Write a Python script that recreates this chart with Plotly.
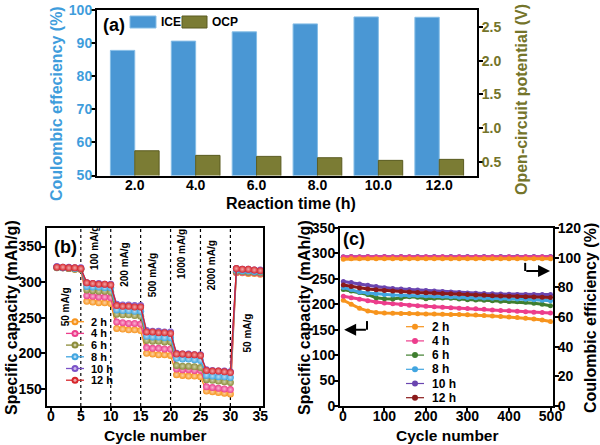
import plotly.graph_objects as go

# ---- (a) ICE / OCP vs reaction time
times = ["2.0", "4.0", "6.0", "8.0", "10.0", "12.0"]
ice = [87.8, 90.6, 93.4, 95.8, 97.9, 97.8]
ocp = [0.666, 0.598, 0.583, 0.563, 0.524, 0.539]

# ---- (b) rate capability
series = ["2 h", "4 h", "6 h", "8 h", "10 h", "12 h"]
cycles_b = list(range(1, 36))
rate_2h = [321, 320, 319, 318, 318, 273, 272, 271, 271, 270, 235, 234, 233, 233, 232,
           200, 199, 198, 198, 197, 170, 169, 168, 168, 167, 147, 146, 145, 144, 143,
           313, 313, 312, 312, 311]
rate_4h = [321, 320, 319, 319, 318, 281, 280, 279, 279, 278, 244, 243, 242, 242, 241,
           208, 207, 207, 206, 206, 178, 177, 177, 176, 176, 153, 152, 151, 150, 149,
           314, 314, 313, 313, 312]
rate_6h = [320, 320, 319, 318, 318, 289, 288, 287, 287, 286, 255, 254, 254, 253, 252,
           218, 217, 217, 216, 216, 183, 182, 182, 181, 180, 163, 162, 161, 160, 159,
           315, 315, 314, 314, 313]
rate_8h = [321, 320, 320, 319, 319, 294, 293, 293, 292, 292, 261, 260, 260, 259, 259,
           224, 223, 223, 222, 222, 193, 192, 192, 191, 190, 169, 168, 167, 167, 166,
           317, 316, 316, 315, 315]
rate_10h = [322, 321, 321, 320, 320, 299, 298, 298, 297, 297, 269, 268, 268, 267, 267,
            232, 231, 231, 230, 230, 200, 199, 199, 198, 198, 177, 176, 175, 175, 174,
            319, 318, 318, 317, 317]
rate_12h = [321, 321, 320, 320, 319, 299, 298, 297, 297, 296, 267, 266, 266, 265, 265,
            230, 230, 229, 229, 228, 199, 199, 198, 198, 197, 176, 175, 175, 174, 173,
            319, 318, 318, 317, 316]
rate_bounds = [5, 10, 15, 20, 25, 30]
rate_labels = ["50 mA/g", "100 mA/g", "200 mA/g", "500 mA/g", "1000 mA/g", "2000 mA/g", "50 mA/g"]

# ---- (c) long cycling
cycles_c = [1, 20, 40, 60, 80, 100, 120, 140, 160, 180, 200, 220, 240, 260, 280, 300,
            320, 340, 360, 380, 400, 420, 440, 460, 480, 500]
cap_2h = [208, 200, 192, 187, 184, 183, 182.5, 182, 182, 181.5, 181, 181, 180.5, 180, 180,
          179.5, 179, 178, 177, 176, 175, 174, 172.5, 171, 169, 166]
cap_4h = [216, 213, 210, 207, 204.5, 202.5, 201, 199.5, 198, 197, 196, 195, 194, 193, 192,
          191.5, 191, 190, 189, 188, 187.5, 186.5, 185.5, 184.5, 184, 183]
cap_6h = [229, 226, 223, 219, 213, 211, 210.5, 212, 215, 214, 211, 212, 212.5, 212, 210.5,
          209, 208.5, 208, 207, 206, 205.5, 205, 204, 202, 200, 197]
cap_8h = [233, 229, 224, 222, 220.5, 219, 218.5, 218, 217.5, 217.5, 217, 216.5, 216, 215, 214,
          213.5, 213, 212.5, 212, 211.5, 211, 210.5, 210, 209, 208, 207]
cap_10h = [245, 243, 240, 237.5, 235, 232.5, 231, 230, 229, 228, 227, 226, 225, 224, 223,
           222, 221.5, 221, 220.5, 220, 219.5, 219, 219, 219, 219, 219]
cap_12h = [238, 235, 232, 230, 228.5, 227, 226, 225, 224, 223, 222.5, 222, 221, 220.5, 220,
           219, 218.5, 218, 217, 216.5, 216, 215.5, 215, 214.5, 214, 213.5]
ce_2h = [99.0, 99.2, 99.3, 99.2, 99.3, 99.2, 99.3, 99.2, 99.3, 99.3, 99.2, 99.3, 99.2,
         99.3, 99.2, 99.3, 99.3, 99.2, 99.3, 99.2, 99.3, 99.2, 99.3, 99.2, 99.3, 99.2]
ce_4h = [100.5, 100.6, 100.5, 100.6, 100.5, 100.6, 100.5, 100.6, 100.6, 100.5, 100.6, 100.5, 100.6,
         100.5, 100.6, 100.5, 100.6, 100.5, 100.6, 100.5, 100.6, 100.5, 100.6, 100.5, 100.6, 100.5]
ce_6h = [100.0, 100.1, 100.0, 100.1, 100.0, 100.1, 100.0, 100.1, 100.0, 100.1, 100.0, 100.1, 100.0,
         100.1, 100.0, 100.1, 100.0, 100.1, 100.0, 100.1, 100.0, 100.1, 100.0, 100.1, 100.0, 100.1]
ce_8h = [100.2, 100.3, 100.2, 100.3, 100.2, 100.3, 100.2, 100.3, 100.2, 100.3, 100.2, 100.3, 100.2,
         100.3, 100.2, 100.3, 100.2, 100.3, 100.2, 100.3, 100.2, 100.3, 100.2, 100.3, 100.2, 100.3]
ce_10h = [100.7, 100.8, 100.7, 100.8, 100.7, 100.8, 100.7, 100.8, 100.7, 100.8, 100.7, 100.8, 100.7,
          100.8, 100.7, 100.8, 100.7, 100.8, 100.7, 100.8, 100.7, 100.8, 100.7, 100.8, 100.7, 100.8]
ce_12h = [100.1, 100.2, 100.1, 100.2, 100.1, 100.2, 100.1, 100.2, 100.1, 100.2, 100.1, 100.2, 100.1,
          100.2, 100.1, 100.2, 100.1, 100.2, 100.1, 100.2, 100.1, 100.2, 100.1, 100.2, 100.1, 100.2]

W, H = 600, 445
FONT = "Liberation Sans, Arial, sans-serif"
BLUE = "#4a97d4"
BLUE_TXT = "#3f9ddc"
OLIVE = "#7b7c34"
OLIVE_TXT = "#74742a"
colors_b = ["#f7941d", "#ec3d8c", "#8c8c3a", "#41a5e0", "#7b52c7", "#d7262b"]
light_b = ["#fcd2a3", "#f8b4d2", "#d0d0a8", "#b5dcf4", "#cbb8ec", "#f0a8aa"]
colors_c = ["#f7941d", "#ec3d8c", "#3f7e2f", "#41a5e0", "#6a45b0", "#8b1a1a"]
rates = [rate_2h, rate_4h, rate_6h, rate_8h, rate_10h, rate_12h]
caps = [cap_2h, cap_4h, cap_6h, cap_8h, cap_10h, cap_12h]
ces = [ce_2h, ce_4h, ce_6h, ce_8h, ce_10h, ce_12h]


def px(x):
    return x / W


def py(y):
    return 1 - y / H


def label(text, x, y, size, angle=0, color="black", anchor="center"):
    # text placed in page pixels
    return dict(text=text, xref="paper", yref="paper", x=px(x), y=py(y), textangle=angle,
                xanchor=anchor, yanchor="middle", showarrow=False,
                font=dict(family=FONT, size=size, color=color, weight="bold"))


fig = go.Figure()

# (a) bars
fig.add_trace(go.Bar(x=times, y=ice, name="ICE", width=0.4, offset=-0.4,
                     marker=dict(color=BLUE, line=dict(color="#86bde6", width=1)),
                     xaxis="x", yaxis="y"))
fig.add_trace(go.Bar(x=times, y=ocp, name="OCP", width=0.4, offset=0,
                     marker=dict(color=OLIVE, line=dict(color="#5a5b20", width=1)),
                     xaxis="x", yaxis="y2"))

# (b) rate lines
for name, vals, col, lt in zip(series, rates, colors_b, light_b):
    fig.add_trace(go.Scatter(x=cycles_b, y=vals, name=name, mode="lines+markers",
                             line=dict(color=col, width=1.3),
                             marker=dict(size=7, color=col, line=dict(width=0),
                                         gradient=dict(type="radial", color=lt)),
                             xaxis="x2", yaxis="y3"))

# (c) capacity + CE
for name, vals, col in zip(series, caps, colors_c):
    fig.add_trace(go.Scatter(x=cycles_c, y=vals, name=name, mode="lines+markers",
                             line=dict(color=col, width=3),
                             marker=dict(size=5, color=col, line=dict(width=0)),
                             xaxis="x3", yaxis="y4"))
for name, vals, col in list(zip(series, ces, colors_c))[::-1]:
    fig.add_trace(go.Scatter(x=cycles_c, y=vals, name=name, mode="lines+markers",
                             line=dict(color=col, width=3),
                             marker=dict(size=5, color=col, line=dict(width=0)),
                             xaxis="x3", yaxis="y5"))

axis_common = dict(showline=True, linecolor="black", linewidth=2, ticks="outside",
                   ticklen=4, tickwidth=1.5, tickcolor="black", showgrid=False,
                   zeroline=False, automargin=False,
                   tickfont=dict(family=FONT, size=14, color="black", weight="bold"))
xstand = dict(ticklabelstandoff=-7, ticklen=3)
ystand = dict(ticklabelstandoff=-4)

fig.update_layout(
    width=W, height=H, margin=dict(l=0, r=0, t=0, b=0, autoexpand=False),
    paper_bgcolor="white", plot_bgcolor="white", showlegend=False,
    font=dict(family=FONT, color="black"),
    xaxis=dict(**{**axis_common, "ticks": ""}, ticklabelstandoff=-4,
               domain=[px(97), px(477)], type="category",
               range=[-0.62, 5.62], mirror=True, anchor="y"),
    yaxis=dict(**{**axis_common, "tickfont": dict(family=FONT, size=14, color=BLUE_TXT, weight="bold")},
               **ystand, domain=[py(175.5), py(10)], range=[50, 100], dtick=10, anchor="x"),
    yaxis2=dict(**{**axis_common, "tickfont": dict(family=FONT, size=14, color=OLIVE_TXT, weight="bold")},
                **ystand, overlaying="y", side="right", range=[0.3, 2.75],
                tickvals=[0.5, 1.0, 1.5, 2.0, 2.5], tickformat=".1f", anchor="x"),
    xaxis2=dict(**{**axis_common, **xstand}, domain=[px(46.7), px(263.3)], range=[-0.7, 35.5],
                dtick=5, mirror=True, anchor="y3"),
    yaxis3=dict(**axis_common, **ystand, domain=[py(406), py(228)], range=[126, 376],
                dtick=50, mirror=True, anchor="x2"),
    xaxis3=dict(**{**axis_common, **xstand}, domain=[px(340), px(553)], range=[-7, 506],
                dtick=100, mirror=True, anchor="y4"),
    yaxis4=dict(**axis_common, **ystand, domain=[py(406), py(228)], range=[0, 350],
                dtick=50, anchor="x3"),
    yaxis5=dict(**axis_common, **ystand, overlaying="y4", side="right", range=[0, 120],
                dtick=20, anchor="x3"),
)

shapes = []
ann = []

# (a) legend
for name, col, edge, x0, x1 in [("ICE", BLUE, "#86bde6", 130, 156), ("OCP", OLIVE, "#5a5b20", 182, 207)]:
    shapes.append(dict(type="rect", xref="paper", yref="paper", x0=px(x0), x1=px(x1),
                       y0=py(28), y1=py(16), fillcolor=col, line=dict(color=edge, width=1)))
    ann.append(label(name, x1 + 3, 22, 12, anchor="left"))
ann.append(label("(a)", 114, 25, 18))

# (b) dotted separators and rate labels
for b in rate_bounds:
    shapes.append(dict(type="line", xref="x2", yref="y3 domain", x0=b, x1=b, y0=0, y1=1,
                       line=dict(color="black", width=1.2, dash="dot"), layer="below"))
label_pos_b = [(2.4, 265), (7.4, 348), (12.3, 325), (17.0, 309), (21.8, 340), (26.8, 324), (32.8, 228)]
for txt, (lx, ly) in zip(rate_labels, label_pos_b):
    ann.append(dict(text=txt, xref="x2", yref="y3", x=lx, y=ly, textangle=-90,
                    xanchor="center", yanchor="middle", showarrow=False,
                    font=dict(family=FONT, size=10, weight="bold")))
ann.append(label("(b)", 65, 246.5, 18))

# (b) legend
for i, (name, col, lt) in enumerate(zip(series, colors_b, light_b)):
    yy = 321.7 + i * 11.7
    shapes.append(dict(type="line", xref="paper", yref="paper", x0=px(66), x1=px(84),
                       y0=py(yy), y1=py(yy), line=dict(color=col, width=1.3)))
    shapes.append(dict(type="circle", xref="paper", yref="paper", x0=px(71.5), x1=px(78.5),
                       y0=py(yy + 3.5), y1=py(yy - 3.5), fillcolor=col, line=dict(width=0)))
    shapes.append(dict(type="circle", xref="paper", yref="paper", x0=px(73.5), x1=px(76.5),
                       y0=py(yy + 1.5), y1=py(yy - 1.5), fillcolor=lt, line=dict(width=0)))
    ann.append(label(name, 89, yy, 11, anchor="left"))

# (c) legend
for i, (name, col) in enumerate(zip(series, colors_c)):
    yy = 326.7 + i * 14.2
    shapes.append(dict(type="line", xref="paper", yref="paper", x0=px(406), x1=px(424),
                       y0=py(yy), y1=py(yy), line=dict(color=col, width=1.2)))
    shapes.append(dict(type="circle", xref="paper", yref="paper", x0=px(412), x1=px(418),
                       y0=py(yy + 3), y1=py(yy - 3), fillcolor=col, line=dict(width=0)))
    ann.append(label(name, 430, yy, 12, anchor="left"))
ann.append(label("(c)", 354, 239, 18))

# (c) arrows
shapes.append(dict(type="line", xref="x3", yref="y4", x0=58, x1=58, y0=167, y1=150,
                   line=dict(color="black", width=2)))
ann.append(dict(text="", xref="x3", yref="y4", x=3, y=150, ax=59, ay=150,
                axref="x3", ayref="y4", showarrow=True, arrowhead=2, arrowsize=1.2,
                arrowwidth=2, arrowcolor="black"))
shapes.append(dict(type="line", xref="x3", yref="y5", x0=439, x1=439, y0=96.5, y1=91,
                   line=dict(color="black", width=2)))
ann.append(dict(text="", xref="x3", yref="y5", x=499, y=91, ax=438, ay=91,
                axref="x3", ayref="y5", showarrow=True, arrowhead=2, arrowsize=1.2,
                arrowwidth=2, arrowcolor="black"))

# axis titles
ann += [
    label("Coulombic effeciency (%)", 56, 104, 16, angle=-90, color=BLUE_TXT),
    label("Open-circuit potential (V)", 521, 100, 16, angle=-90, color=OLIVE_TXT),
    label("Reaction time (h)", 291, 204, 16),
    label("Specific capacity (mAh/g)", 11, 318, 16, angle=-90),
    label("Cycle number", 155, 435, 15.5),
    label("Specific capacity (mAh/g)", 304, 318, 16, angle=-90),
    label("Coulombic efficiency (%)", 590, 318, 16, angle=-90),
    label("Cycle number", 447, 435, 15.5),
]

fig.update_layout(shapes=shapes, annotations=ann)
fig.write_html("out.html", config={"displayModeBar": False},
               post_script="document.body.style.margin='0';")
